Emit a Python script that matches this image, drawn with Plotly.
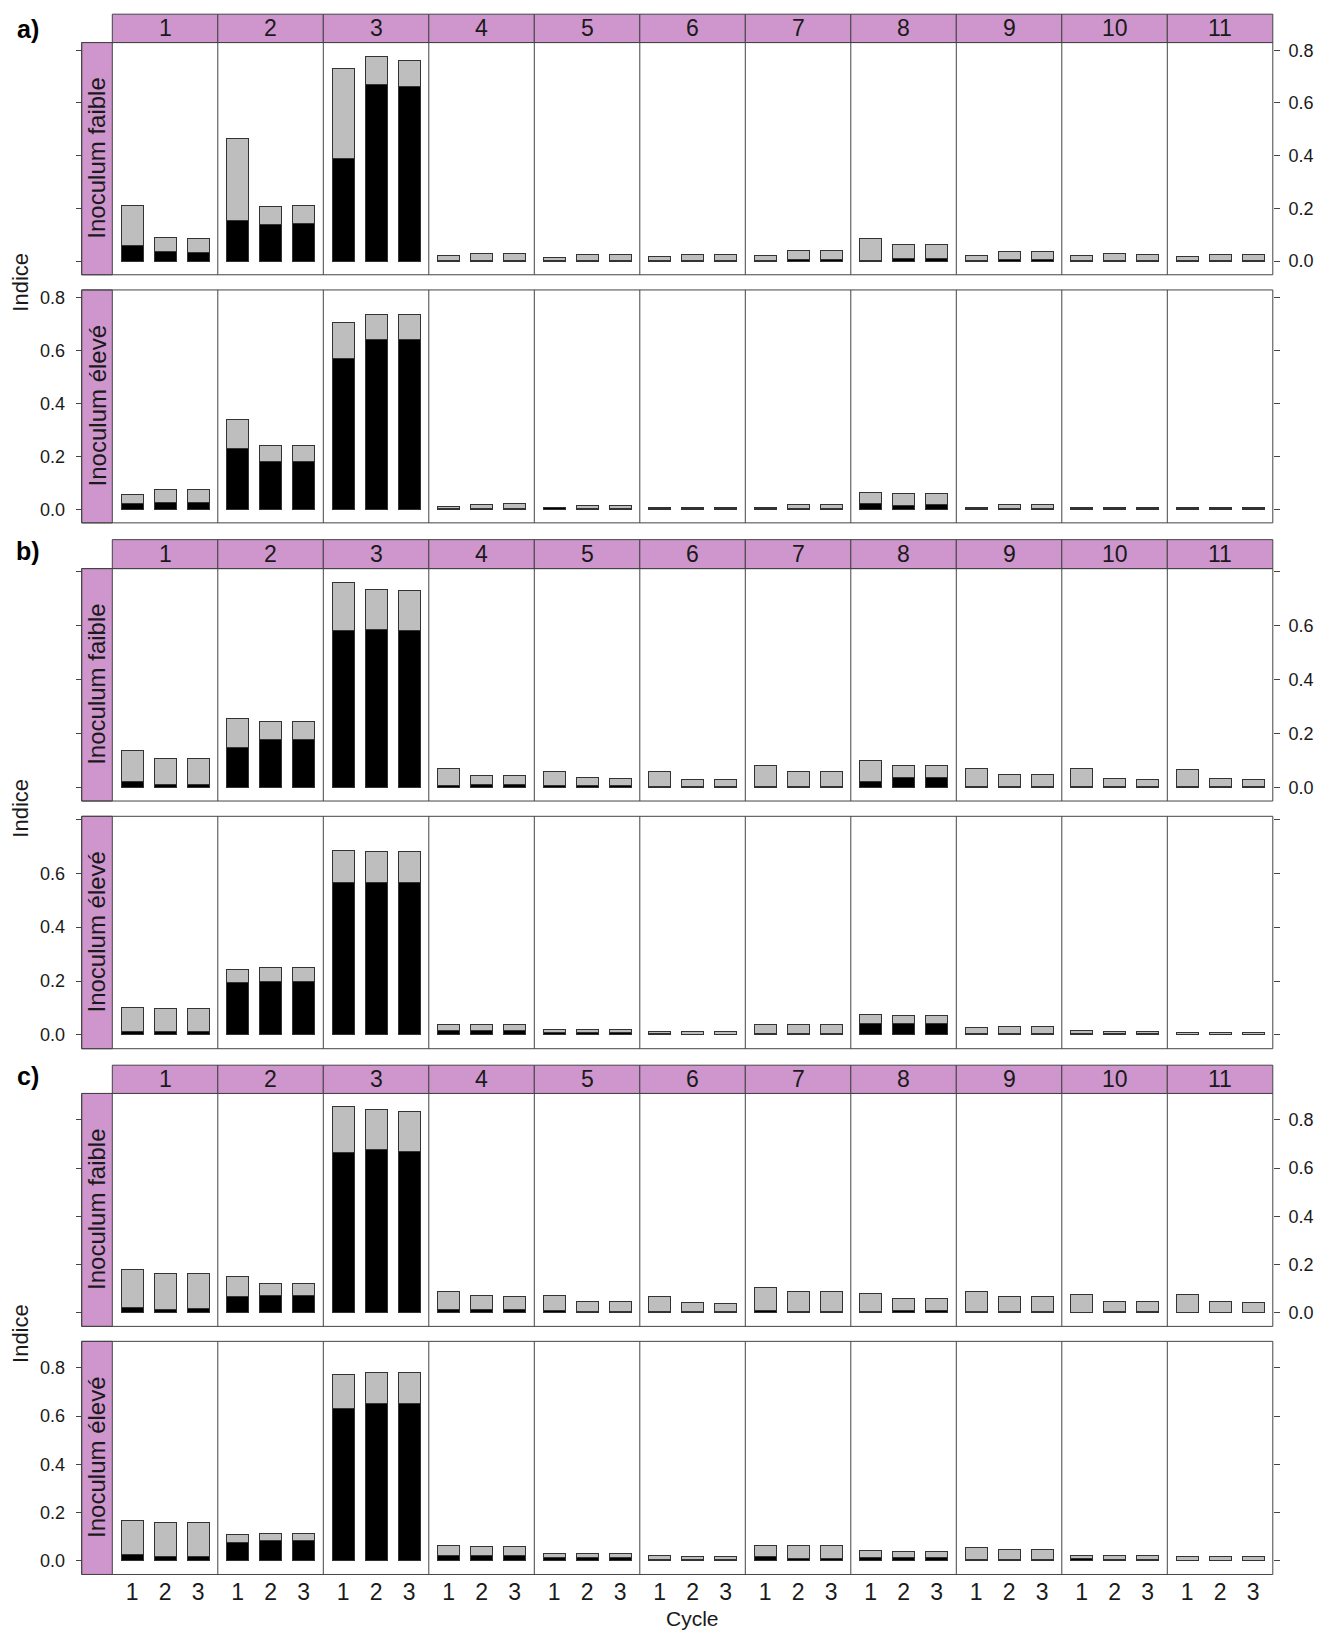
import plotly.graph_objects as go

# ---------------- data ----------------
strips = [str(i) for i in range(1, 12)]
cycles = [1, 2, 3]
cycle_labels = ["1", "2", "3"]
row_labels = ["Inoculum faible", "Inoculum élevé"]
block_labels = ["a)", "b)", "c)"]
y_tick_vals = [0.0, 0.2, 0.4, 0.6, 0.8]
y_tick_text_full = ["0.0", "0.2", "0.4", "0.6", "0.8"]
y_tick_text_b = ["0.0", "0.2", "0.4", "0.6", ""]

# block a
a_faible_total = [[0.212, 0.091, 0.087], [0.464, 0.206, 0.210], [0.732, 0.777, 0.762],
                  [0.020, 0.029, 0.029], [0.014, 0.027, 0.026], [0.017, 0.027, 0.026],
                  [0.023, 0.040, 0.040], [0.086, 0.063, 0.063], [0.023, 0.037, 0.037],
                  [0.020, 0.029, 0.027], [0.017, 0.027, 0.026]]
a_faible_noir = [[0.059, 0.035, 0.032], [0.155, 0.138, 0.144], [0.391, 0.670, 0.662],
                 [0.003, 0.003, 0.003], [0.002, 0.003, 0.003], [0.002, 0.002, 0.002],
                 [0.002, 0.008, 0.008], [0.002, 0.010, 0.010], [0.003, 0.006, 0.006],
                 [0.003, 0.003, 0.003], [0.002, 0.002, 0.002]]
a_eleve_total = [[0.055, 0.073, 0.073], [0.340, 0.242, 0.242], [0.705, 0.735, 0.737],
                 [0.012, 0.018, 0.020], [0.006, 0.013, 0.013], [0.008, 0.008, 0.008],
                 [0.008, 0.019, 0.019], [0.064, 0.058, 0.058], [0.008, 0.018, 0.018],
                 [0.006, 0.007, 0.007], [0.006, 0.007, 0.007]]
a_eleve_noir = [[0.020, 0.024, 0.024], [0.229, 0.181, 0.179], [0.571, 0.642, 0.642],
                [0.003, 0.003, 0.003], [0.005, 0.004, 0.004], [0.003, 0.003, 0.003],
                [0.002, 0.003, 0.003], [0.023, 0.015, 0.018], [0.002, 0.003, 0.003],
                [0.002, 0.002, 0.002], [0.002, 0.002, 0.002]]
# block b
b_faible_total = [[0.137, 0.107, 0.107], [0.254, 0.243, 0.243], [0.760, 0.735, 0.730],
                  [0.069, 0.044, 0.042], [0.060, 0.035, 0.032], [0.058, 0.030, 0.027],
                  [0.080, 0.058, 0.058], [0.100, 0.080, 0.080], [0.069, 0.048, 0.048],
                  [0.069, 0.031, 0.030], [0.065, 0.031, 0.027]]
b_faible_noir = [[0.023, 0.009, 0.009], [0.148, 0.178, 0.178], [0.581, 0.584, 0.581],
                 [0.006, 0.010, 0.010], [0.005, 0.006, 0.006], [0.003, 0.003, 0.003],
                 [0.003, 0.003, 0.003], [0.023, 0.035, 0.035], [0.003, 0.003, 0.003],
                 [0.002, 0.003, 0.003], [0.002, 0.002, 0.002]]
b_eleve_total = [[0.103, 0.100, 0.100], [0.243, 0.249, 0.249], [0.686, 0.682, 0.682],
                 [0.038, 0.038, 0.038], [0.022, 0.022, 0.022], [0.014, 0.013, 0.013],
                 [0.038, 0.038, 0.038], [0.075, 0.073, 0.073], [0.027, 0.031, 0.031],
                 [0.016, 0.013, 0.013], [0.011, 0.011, 0.011]]
b_eleve_noir = [[0.014, 0.014, 0.014], [0.196, 0.200, 0.200], [0.564, 0.564, 0.564],
                [0.017, 0.017, 0.017], [0.011, 0.011, 0.011], [0.004, 0.003, 0.003],
                [0.007, 0.007, 0.007], [0.044, 0.044, 0.044], [0.004, 0.004, 0.004],
                [0.007, 0.004, 0.004], [0.003, 0.003, 0.003]]
# block c
c_faible_total = [[0.180, 0.164, 0.164], [0.152, 0.121, 0.121], [0.854, 0.842, 0.834],
                  [0.087, 0.071, 0.068], [0.071, 0.045, 0.045], [0.068, 0.042, 0.039],
                  [0.104, 0.087, 0.087], [0.079, 0.057, 0.057], [0.087, 0.067, 0.067],
                  [0.077, 0.045, 0.045], [0.074, 0.045, 0.042]]
c_faible_noir = [[0.023, 0.015, 0.017], [0.067, 0.071, 0.071], [0.664, 0.676, 0.668],
                 [0.012, 0.015, 0.015], [0.008, 0.006, 0.006], [0.004, 0.003, 0.003],
                 [0.011, 0.006, 0.006], [0.006, 0.011, 0.011], [0.003, 0.003, 0.003],
                 [0.002, 0.003, 0.003], [0.002, 0.002, 0.002]]
c_eleve_total = [[0.166, 0.158, 0.158], [0.108, 0.111, 0.111], [0.771, 0.780, 0.780],
                 [0.062, 0.059, 0.059], [0.029, 0.028, 0.028], [0.020, 0.017, 0.017],
                 [0.065, 0.062, 0.062], [0.043, 0.040, 0.040], [0.054, 0.046, 0.046],
                 [0.023, 0.020, 0.020], [0.017, 0.017, 0.017]]
c_eleve_noir = [[0.026, 0.019, 0.019], [0.074, 0.084, 0.084], [0.633, 0.653, 0.653],
                [0.022, 0.022, 0.022], [0.012, 0.012, 0.012], [0.004, 0.004, 0.004],
                [0.017, 0.010, 0.010], [0.014, 0.014, 0.014], [0.005, 0.005, 0.005],
                [0.008, 0.005, 0.005], [0.003, 0.003, 0.003]]

# ---------------- layout geometry (pixels) ----------------
W, H = 1330, 1634
X_STRIP_L = 81.7
X0 = 112.3
COLW = 105.5
X_R = X0 + 11 * COLW

PURPLE = "#CF96CD"
FRAME = "#444444"
GREY = "#BEBEBE"
FONT = "Liberation Sans, Arial, sans-serif"
TXT = "#1a1a1a"

blocks = [
    dict(label=block_labels[0], lab_y=27, strip=(12.2, 40.6), rows=[(40.6, 273.1), (288.3, 521.5)],
         yr=[-0.0515, 0.829], ttext=y_tick_text_full,
         data=[(a_faible_total, a_faible_noir), (a_eleve_total, a_eleve_noir)]),
    dict(label=block_labels[1], lab_y=550, strip=(538.3, 567.3), rows=[(567.3, 800.0), (815.3, 1048.0)],
         yr=[-0.051, 0.811], ttext=y_tick_text_b,
         data=[(b_faible_total, b_faible_noir), (b_eleve_total, b_eleve_noir)]),
    dict(label=block_labels[2], lab_y=1075, strip=(1064.5, 1092.8), rows=[(1092.8, 1326.0), (1341.0, 1574.4)],
         yr=[-0.057, 0.910], ttext=y_tick_text_full,
         data=[(c_faible_total, c_faible_noir), (c_eleve_total, c_eleve_noir)]),
]


def px(x):
    return x / W


def py(y):
    return 1 - y / H


fig = go.Figure()
layout = dict(
    width=W, height=H, margin=dict(l=0, r=0, t=0, b=0, pad=0),
    paper_bgcolor="white", plot_bgcolor="rgba(0,0,0,0)",
    barmode="stack", showlegend=False,
    font=dict(family=FONT, color=TXT),
)

BOTTOM_Y = 6  # main y-axis index of last row

# x axes: one per column, labels at the bottom row
for k in range(11):
    name = "xaxis" if k == 0 else f"xaxis{k + 1}"
    layout[name] = dict(
        domain=[px(X0 + k * COLW), px(X0 + (k + 1) * COLW)],
        range=[0.4, 3.6], anchor=f"y{BOTTOM_Y}",
        tickvals=cycles, ticktext=cycle_labels,
        ticks="", ticklabelstandoff=2,
        tickfont=dict(size=23, color=TXT),
        showgrid=False, zeroline=False, showline=False, fixedrange=True,
    )

shapes = []
annotations = []
row_idx = 0
for b in blocks:
    st, sb = b["strip"]
    for k in range(11):
        shapes.append(dict(type="rect", xref="paper", yref="paper",
                           x0=px(X0 + k * COLW), x1=px(X0 + (k + 1) * COLW), y0=py(sb), y1=py(st),
                           fillcolor=PURPLE, line=dict(color=FRAME, width=1)))
        annotations.append(dict(x=px(X0 + (k + 0.5) * COLW), y=py((st + sb) / 2), xref="paper", yref="paper",
                                text=strips[k], showarrow=False, font=dict(size=23, color=TXT),
                                xanchor="center", yanchor="middle"))
    for r, (top, bot) in enumerate(b["rows"]):
        row_idx += 1
        main = row_idx
        sec = row_idx + 6
        dom = [py(bot), py(top)]
        labelled_right = (r == 0)
        main_side = "right" if labelled_right else "left"
        main_pos = px(X_R) if labelled_right else px(X_STRIP_L)
        sec_side = "left" if labelled_right else "right"
        sec_pos = px(X_STRIP_L) if labelled_right else px(X_R)
        common = dict(domain=dom, range=b["yr"], anchor="free", tickvals=y_tick_vals,
                      ticks="outside", ticklen=6, tickcolor=FRAME, tickwidth=1,
                      showgrid=False, zeroline=False, showline=False, fixedrange=True,
                      tickfont=dict(size=18, color=TXT))
        layout["yaxis" if main == 1 else f"yaxis{main}"] = dict(
            common, side=main_side, position=main_pos, ticktext=b["ttext"],
            showticklabels=True, ticklabelstandoff=5 if labelled_right else 7)
        layout[f"yaxis{sec}"] = dict(common, side=sec_side, position=sec_pos,
                                     ticktext=b["ttext"], showticklabels=False)
        # placeholder trace (no visible point) so the secondary tick axis gets drawn
        fig.add_trace(go.Scatter(x=[None], y=[None], xaxis="x11", yaxis=f"y{sec}",
                                 mode="markers", hoverinfo="skip"))

        totals, noirs = b["data"][r]
        for k in range(11):
            xa = "x" if k == 0 else f"x{k + 1}"
            ya = "y" if main == 1 else f"y{main}"
            gris = [round(t - n, 4) for t, n in zip(totals[k], noirs[k])]
            fig.add_trace(go.Bar(x=cycles, y=noirs[k], xaxis=xa, yaxis=ya, width=0.667,
                                 marker=dict(color="black", line=dict(color="#333333", width=1))))
            fig.add_trace(go.Bar(x=cycles, y=gris, xaxis=xa, yaxis=ya, width=0.667,
                                 marker=dict(color=GREY, line=dict(color="#333333", width=1))))

        # frames
        shapes.append(dict(type="rect", xref="paper", yref="paper",
                           x0=px(X_STRIP_L), x1=px(X0), y0=py(bot), y1=py(top),
                           fillcolor=PURPLE, line=dict(color=FRAME, width=1)))
        shapes.append(dict(type="rect", xref="paper", yref="paper",
                           x0=px(X_STRIP_L), x1=px(X_R), y0=py(bot), y1=py(top),
                           line=dict(color=FRAME, width=1)))
        for k in range(1, 11):
            shapes.append(dict(type="line", xref="paper", yref="paper",
                               x0=px(X0 + k * COLW), x1=px(X0 + k * COLW), y0=py(bot), y1=py(top),
                               line=dict(color=FRAME, width=1)))
        annotations.append(dict(x=px((X_STRIP_L + X0) / 2), y=py((top + bot) / 2), xref="paper", yref="paper",
                                text=row_labels[r], textangle=-90, showarrow=False,
                                font=dict(size=24, color=TXT), xanchor="center", yanchor="middle"))
    # Indice label and block label
    rtop = b["rows"][0][0]
    rbot = b["rows"][1][1]
    annotations.append(dict(x=px(21), y=py((rtop + rbot) / 2), xref="paper", yref="paper",
                            text="Indice", textangle=-90, showarrow=False,
                            font=dict(size=22, color=TXT), xanchor="center", yanchor="middle"))
    annotations.append(dict(x=px(27.5), y=py(b["lab_y"]), xref="paper", yref="paper",
                            text=f"<b>{b['label']}</b>", showarrow=False,
                            font=dict(size=25, color="black"), xanchor="center", yanchor="middle"))

annotations.append(dict(x=px((X0 + X_R) / 2), y=py(1618), xref="paper", yref="paper",
                        text="Cycle", showarrow=False, font=dict(size=21, color=TXT),
                        xanchor="center", yanchor="middle"))

layout["shapes"] = shapes
layout["annotations"] = annotations
fig.update_layout(**layout)
fig.write_html("out.html", config={"displayModeBar": False, "staticPlot": True},
               post_script="document.body.style.margin='0px';document.body.style.padding='0px';")
